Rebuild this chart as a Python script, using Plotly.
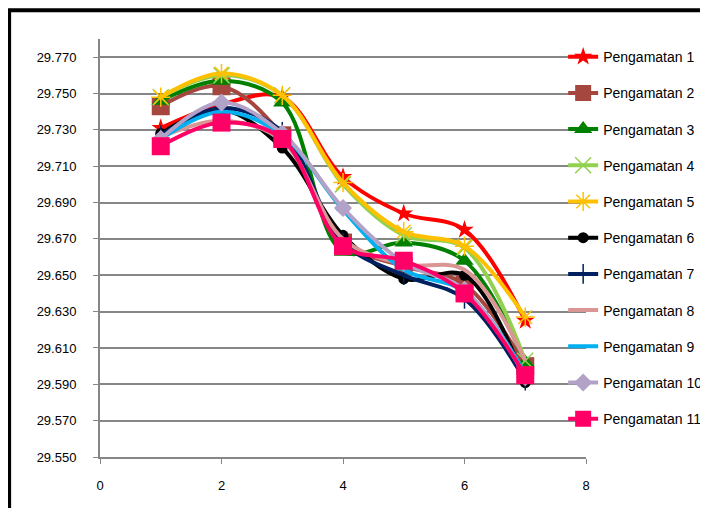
import plotly.graph_objects as go

x_vals = [1, 2, 3, 4, 5, 6, 7]

series_names = ["Pengamatan 1", "Pengamatan 2", "Pengamatan 3", "Pengamatan 4",
                "Pengamatan 5", "Pengamatan 6", "Pengamatan 7", "Pengamatan 8",
                "Pengamatan 9", "Pengamatan 10", "Pengamatan 11"]

p1 = [29.731, 29.744, 29.748, 29.704, 29.684, 29.675, 29.625]
p2 = [29.743, 29.754, 29.727, 29.668, 29.655, 29.645, 29.600]
p3 = [29.746, 29.757, 29.745, 29.663, 29.668, 29.658, 29.602]
p4 = [29.748, 29.760, 29.749, 29.700, 29.672, 29.665, 29.603]
p5 = [29.748, 29.761, 29.749, 29.701, 29.674, 29.666, 29.627]
p6 = [29.728, 29.741, 29.720, 29.672, 29.648, 29.650, 29.591]
p7 = [29.727, 29.742, 29.729, 29.668, 29.650, 29.637, 29.592]
p8 = [29.726, 29.735, 29.724, 29.670, 29.656, 29.653, 29.603]
p9 = [29.725, 29.740, 29.727, 29.686, 29.653, 29.641, 29.596]
p10 = [29.725, 29.745, 29.728, 29.687, 29.657, 29.642, 29.594]
p11 = [29.721, 29.734, 29.725, 29.666, 29.658, 29.640, 29.595]

y_ticks = [29.550, 29.570, 29.590, 29.610, 29.630, 29.650, 29.670,
           29.690, 29.710, 29.730, 29.750, 29.770]
x_ticks = [0, 2, 4, 6, 8]

all_series = [p1, p2, p3, p4, p5, p6, p7, p8, p9, p10, p11]

styles = [
    dict(color="#FF0000", symbol="star", size=14, lw=0),
    dict(color="#A5463F", symbol="square", size=18, lw=0),
    dict(color="#008000", symbol="triangle-up", size=16, lw=0),
    dict(color="#92D050", symbol="x-thin-open", size=16, lw=1.5),
    dict(color="#FFC000", symbol="asterisk-open", size=16, lw=1.5),
    dict(color="#000000", symbol="circle", size=11, lw=0),
    dict(color="#002060", symbol="line-ns-open", size=14, lw=1.5),
    dict(color="#D99694", symbol=None, size=0, lw=0),
    dict(color="#00B0F0", symbol="line-ew-open", size=10, lw=1.5),
    dict(color="#B3A2C7", symbol="diamond", size=14, lw=0),
    dict(color="#FF0066", symbol="square", size=18, lw=0),
]

FONT = "Liberation Sans, Arial, sans-serif"

fig = go.Figure()
for i, (name, vals, st) in enumerate(zip(series_names, all_series, styles)):
    if st["symbol"] is None:
        mode = "lines"
        marker = None
    else:
        mode = "lines+markers"
        marker = dict(symbol=st["symbol"], size=st["size"], color=st["color"],
                      line=dict(color=st["color"], width=st["lw"]))
    fig.add_trace(go.Scatter(
        x=x_vals, y=vals, name=name, mode=mode,
        line=dict(color=st["color"], width=4, shape="spline", smoothing=1),
        marker=marker, legendgroup=f"g{i}",
    ))

fig.update_layout(
    width=708, height=508,
    margin=dict(l=92, r=130, t=31, b=59, autoexpand=False),
    paper_bgcolor="white", plot_bgcolor="white",
    font=dict(family=FONT, size=14, color="black"),
    showlegend=True,
    legend=dict(x=0.953, xanchor="left", y=0.995, yanchor="top",
                bgcolor="rgba(0,0,0,0)", tracegroupgap=15,
                traceorder="grouped", font=dict(size=14)),
    xaxis=dict(range=[0, 8], tickvals=x_ticks, ticktext=[str(v) for v in x_ticks],
               showgrid=False, zeroline=False, showline=True, linecolor="#868686",
               linewidth=2, ticks="outside", ticklen=5, tickcolor="#868686",
               tickwidth=1, ticklabelstandoff=10, tickfont=dict(size=13),
               automargin=False),
    yaxis=dict(range=[29.55, 29.78], tickvals=y_ticks,
               ticktext=[f"{v:.3f}" for v in y_ticks],
               showgrid=True, gridcolor="#868686", gridwidth=2, zeroline=False,
               showline=True, linecolor="#868686", linewidth=2,
               ticks="outside", ticklen=5, tickcolor="#868686", tickwidth=1,
               ticklabelstandoff=14, tickfont=dict(size=13), automargin=False),
    shapes=[dict(type="rect", xref="paper", yref="paper",
                 x0=-0.187, x1=1.3, y0=-0.2, y1=1.069,
                 line=dict(color="black", width=4), layer="above")],
)

fig.write_html("out.html")
